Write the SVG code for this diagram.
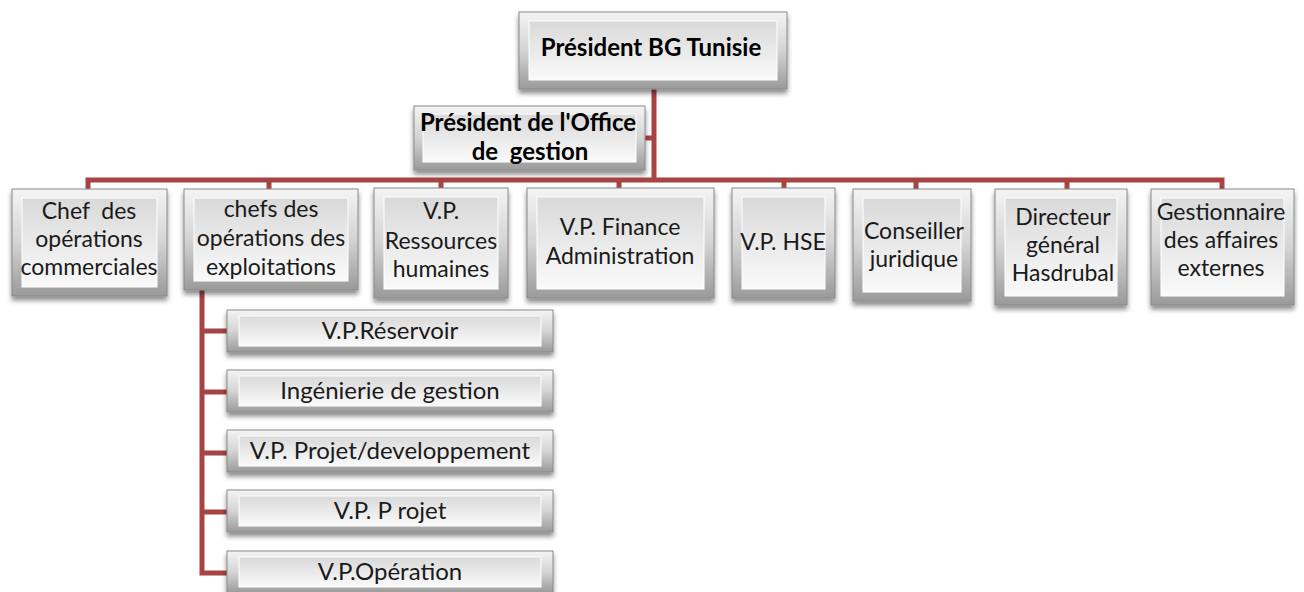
<svg xmlns="http://www.w3.org/2000/svg" width="1304" height="592" viewBox="0 0 1304 592">
<defs>
<linearGradient id="gOuter" x1="0" y1="0" x2="0" y2="1">
<stop offset="0" stop-color="#f4f4f4"/>
<stop offset="0.5" stop-color="#d4d4d4"/>
<stop offset="1" stop-color="#9a9a9a"/>
</linearGradient>
<linearGradient id="gInner" x1="0" y1="0" x2="0" y2="1">
<stop offset="0" stop-color="#d9d9d9"/>
<stop offset="1" stop-color="#fafafa"/>
</linearGradient>
<filter id="sh" x="-10%" y="-10%" width="120%" height="140%">
<feDropShadow dx="0" dy="4" stdDeviation="2.5" flood-color="#000" flood-opacity="0.45"/>
</filter>
</defs>
<style>
.o{fill:url(#gOuter);stroke:#8a8a8a;stroke-width:1;filter:url(#sh)}
.i{fill:url(#gInner);stroke:#ffffff;stroke-width:1}
.t{font-family:Lato,"Open Sans",sans-serif;font-size:23px;fill:#1a1a1a;text-anchor:middle;white-space:pre}
.b{font-weight:bold;font-size:24px;fill:#000}
.s{font-size:24px}
.c{fill:none;stroke:#a84343;stroke-width:5;stroke-linejoin:miter}
</style>
<g id="connectors">
<path class="c" d="M654 89 V180"/>
<path class="c" d="M645 138 H654"/>
<path class="c" d="M88 190 V180 H1222 V190"/>
<path class="c" d="M269 180 V190 M441 180 V190 M619 180 V190 M784 180 V190 M916 180 V190 M1067 180 V190"/>
<path class="c" d="M202 290 V573 H228 M202 331 H228 M202 392 H228 M202 453 H228 M202 512 H228"/>
</g>
<g id="president">
<rect class="o" x="519" y="12" width="268" height="77"/>
<rect class="i" x="529" y="21" width="248" height="59"/>
<text class="t b" x="651" y="56">Président BG Tunisie</text>
</g>
<g id="office">
<rect class="o" x="414" y="106" width="231" height="64"/>
<rect class="i" x="423" y="114" width="213" height="48"/>
<text class="t b" x="528" y="131">Président de l'Office</text>
<text class="t b" x="530" y="160" xml:space="preserve">de  gestion</text>
</g>
<g id="n1">
<rect class="o" x="12" y="189" width="155" height="107"/>
<rect class="i" x="22" y="198" width="135" height="89"/>
<text class="t" x="89" y="219" xml:space="preserve">Chef  des</text>
<text class="t" x="89" y="247">opérations</text>
<text class="t" x="89" y="275">commerciales</text>
</g>
<g id="n2">
<rect class="o" x="184" y="189" width="174" height="101"/>
<rect class="i" x="194" y="198" width="154" height="83"/>
<text class="t" x="271" y="217">chefs des</text>
<text class="t" x="271" y="246">opérations des</text>
<text class="t" x="271" y="275">exploitations</text>
</g>
<g id="n3">
<rect class="o" x="374" y="188" width="134" height="110"/>
<rect class="i" x="384" y="197" width="114" height="92"/>
<text class="t" x="441" y="219">V.P.</text>
<text class="t" x="441" y="249">Ressources</text>
<text class="t" x="441" y="277">humaines</text>
</g>
<g id="n4">
<rect class="o" x="527" y="188" width="187" height="110"/>
<rect class="i" x="537" y="197" width="167" height="92"/>
<text class="t" x="620" y="235">V.P. Finance</text>
<text class="t" x="620" y="264">Administration</text>
</g>
<g id="n5">
<rect class="o" x="732" y="188" width="103" height="110"/>
<rect class="i" x="742" y="197" width="83" height="92"/>
<text class="t" x="783" y="250">V.P. HSE</text>
</g>
<g id="n6">
<rect class="o" x="853" y="189" width="118" height="112"/>
<rect class="i" x="863" y="198" width="98" height="94"/>
<text class="t" x="914" y="239">Conseiller</text>
<text class="t" x="914" y="267">juridique</text>
</g>
<g id="n7">
<rect class="o" x="995" y="189" width="132" height="116"/>
<rect class="i" x="1005" y="198" width="112" height="98"/>
<text class="t" x="1063" y="225">Directeur</text>
<text class="t" x="1063" y="253">général</text>
<text class="t" x="1063" y="281">Hasdrubal</text>
</g>
<g id="n8">
<rect class="o" x="1151" y="189" width="143" height="116"/>
<rect class="i" x="1161" y="198" width="123" height="98"/>
<text class="t" x="1221" y="220">Gestionnaire</text>
<text class="t" x="1221" y="248">des affaires</text>
<text class="t" x="1221" y="276">externes</text>
</g>
<g id="s1">
<rect class="o" x="227" y="310" width="326" height="42"/>
<rect class="i" x="239" y="316" width="302" height="30"/>
<text class="t s" x="390" y="339">V.P.Réservoir</text>
</g>
<g id="s2">
<rect class="o" x="227" y="370" width="326" height="42"/>
<rect class="i" x="239" y="376" width="302" height="30"/>
<text class="t s" x="390" y="399">Ingénierie de gestion</text>
</g>
<g id="s3">
<rect class="o" x="227" y="430" width="326" height="42"/>
<rect class="i" x="239" y="436" width="302" height="30"/>
<text class="t s" x="390" y="459">V.P. Projet/developpement</text>
</g>
<g id="s4">
<rect class="o" x="227" y="490" width="326" height="42"/>
<rect class="i" x="239" y="496" width="302" height="30"/>
<text class="t s" x="390" y="519">V.P. P rojet</text>
</g>
<g id="s5">
<rect class="o" x="227" y="551" width="326" height="42"/>
<rect class="i" x="239" y="557" width="302" height="30"/>
<text class="t s" x="390" y="580">V.P.Opération</text>
</g>
</svg>
